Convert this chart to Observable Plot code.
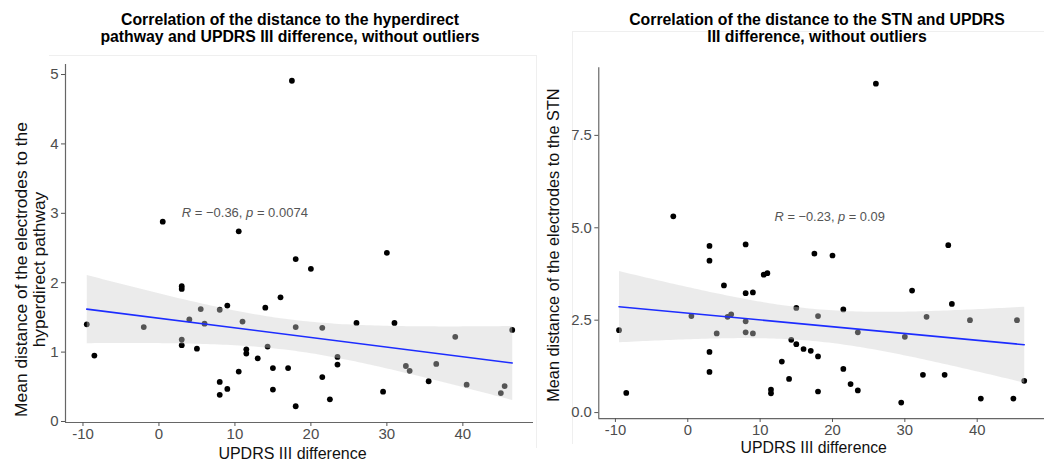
<!DOCTYPE html>
<html>
<head>
<meta charset="utf-8">
<script src="https://cdn.jsdelivr.net/npm/d3@7"></script>
<script src="https://cdn.jsdelivr.net/npm/@observablehq/plot@0.6"></script>
<style>
  html, body { margin: 0; padding: 0; background: #fff; }
  #wrap { position: relative; width: 1044px; height: 467px; overflow: hidden; font-family: "Liberation Sans", Arial, sans-serif; }
  .panel { position: absolute; top: 0; overflow: hidden; }
  .title { position: absolute; top: 12px; width: 540px; text-align: center; font-weight: bold; font-size: 15.8px; line-height: 16.5px; color: #000; }
  .fbox { position: absolute; border-color: #efefef; border-style: solid; border-width: 0; }
</style>
</head>
<body>
<div id="wrap">
  <div class="fbox" style="left:49px; top:55px; width:487px; height:392px; border-top-width:1px; border-right-width:1px;"></div>
  <div class="fbox" style="left:572px; top:31px; width:480px; height:412px; border-top-width:1px; border-left-width:1px;"></div>
  <div class="panel" id="left" style="left:0px; width:535px; height:467px;"></div>
  <div class="panel" id="right" style="left:537px; width:507px; height:467px;"></div>
  <div class="title" id="t1" style="left:20px;"></div>
  <div class="title" id="t2" style="left:547px;"></div>
</div>
<script>
// ---- data ----
const titles = [
  ["Correlation of the distance to the hyperdirect", "pathway and UPDRS III difference, without outliers"],
  ["Correlation of the distance to the STN and UPDRS", "III difference, without outliers"]
];
const xLabel = "UPDRS III difference";
const yLabelHD = "Mean distance of the electrodes to the\nhyperdirect pathway";
const yLabelSTN = "Mean distance of the electrodes to the STN";
const statHD = ["R", " = \u22120.36, ", "p", " = 0.0074"];
const statSTN = ["R", " = \u22120.23, ", "p", " = 0.09"];

const xTicks = [-10, 0, 10, 20, 30, 40];
const yTicksHD = [0, 1, 2, 3, 4, 5];
const yTicksSTN = [0, 2.5, 5, 7.5];

const hdX = [-9.5, -8.5, -2, 0.5, 3, 3, 3, 3, 4, 5, 5.5, 6, 8, 8, 8, 9, 9, 10.5, 10.5, 11, 11.5, 11.5, 13, 14, 14.3, 15, 15, 16, 17, 17.5, 18, 18, 18, 20, 21.5, 21.5, 22.5, 23.5, 23.5, 26, 29.5, 30, 31, 32.5, 33, 35.5, 36.5, 39, 40.5, 45, 45.5, 46.5];
const hdY = [1.40, 0.95, 1.36, 2.88, 1.95, 1.91, 1.18, 1.10, 1.47, 1.05, 1.62, 1.41, 1.61, 0.57, 0.385, 1.67, 0.47, 2.74, 0.72, 1.44, 1.04, 0.98, 0.91, 1.64, 1.08, 0.77, 0.46, 1.79, 0.77, 4.91, 2.34, 1.36, 0.22, 2.20, 0.64, 1.35, 0.32, 0.93, 0.82, 1.42, 0.43, 2.43, 1.42, 0.80, 0.73, 0.58, 0.83, 1.22, 0.53, 0.41, 0.51, 1.32];

const stnX = [-9.5, -8.5, -2, 0.5, 3, 3, 3, 3, 4, 5, 5.5, 6, 8, 8, 8, 8, 9, 9, 10.5, 11, 11.5, 11.5, 13, 14, 14.3, 15, 15, 16, 17, 17.5, 18, 18, 18, 20, 21.5, 21.5, 22.5, 23.5, 23.5, 26, 29.5, 30, 31, 32.5, 33, 35.5, 36, 36.5, 39, 40.5, 45, 45.5, 46.5];
const stnY = [2.23, 0.53, 5.31, 2.61, 4.51, 4.11, 1.64, 1.10, 2.14, 3.44, 2.59, 2.66, 4.55, 3.23, 2.47, 2.17, 3.25, 2.14, 3.73, 3.77, 0.62, 0.52, 1.38, 0.91, 1.97, 1.85, 2.83, 1.72, 1.67, 4.30, 1.52, 0.57, 2.61, 4.25, 1.18, 2.79, 0.77, 0.60, 2.17, 8.9, 0.27, 2.05, 3.30, 1.02, 2.59, 1.02, 4.53, 2.94, 2.50, 0.38, 0.38, 2.50, 0.86];

// ---- helpers ----
function expand(arr) {
  const [a, b] = d3.extent(arr);
  const e = (b - a) * 0.05;
  return [a - e, b + e];
}

function panel(o) {
  const data = o.xs.map((x, i) => ({x, y: o.ys[i]}));
  const xd = expand(o.xs), yd = expand(o.ys);
  const font = "Liberation Sans, Arial, sans-serif";
  const svg = Plot.plot({
    width: o.width, height: 467,
    marginLeft: o.ml, marginRight: o.mr, marginTop: o.mt, marginBottom: o.mb,
    style: {fontFamily: font, background: "transparent", overflow: "visible"},
    x: {domain: xd, axis: null},
    y: {domain: yd, axis: null},
    marks: [
      Plot.dot(data, {x: "x", y: "y", r: 2.9, fill: "#000", stroke: "none"}),
      Plot.linearRegressionY(data, {x: "x", y: "y", stroke: "#1c2cff", strokeWidth: 1.6, fill: "#cfcfcf", fillOpacity: 0.41}),
      Plot.ruleX([xd[0]], {stroke: "#666", strokeWidth: 1.2}),
      Plot.ruleY([yd[0]], {stroke: "#666", strokeWidth: 1.2}),
      Plot.axisX({ticks: xTicks, tickFormat: d => String(d), tickSize: 4, tickPadding: 2, fontSize: 15, stroke: "#555", fill: "#4d4d4d", label: null}),
      Plot.axisY({ticks: o.yTicks, tickFormat: o.yFmt, tickSize: 4, tickPadding: 3, fontSize: 15, stroke: "#555", fill: "#4d4d4d", label: null}),
      Plot.text([o.stat.join("")], {x: () => o.statX, y: () => o.statY, text: d => d, textAnchor: "start", fontSize: 13, fill: "#555"}),
      Plot.text([xLabel], {frameAnchor: "bottom", text: d => d, textAnchor: "middle", dx: o.xlDx, dy: o.xlDy, fontSize: 16, fill: "#111"}),
      Plot.text([o.yLabel], {frameAnchor: "left", text: d => d, rotate: -90, textAnchor: "middle", lineAnchor: "middle", dx: o.ylDx, dy: o.ylDy, fontSize: o.ylSize, lineHeight: o.ylLH, fill: "#111"})
    ]
  });
  // italicise R and p in the statistic label
  const target = o.stat.join("");
  svg.querySelectorAll("text").forEach(t => {
    if (t.textContent === target) {
      while (t.firstChild) t.removeChild(t.firstChild);
      o.stat.forEach((s, i) => {
        const ts = document.createElementNS("http://www.w3.org/2000/svg", "tspan");
        ts.textContent = s;
        if (i % 2 === 0) ts.setAttribute("font-style", "italic");
        t.appendChild(ts);
      });
    }
  });
  return svg;
}

document.getElementById("left").appendChild(panel({
  xs: hdX, ys: hdY, width: 535, ml: 65, mr: 2, mt: 64, mb: 45,
  yTicks: yTicksHD, yFmt: d => String(d), stat: statHD, statX: 3, statY: 3.0,
  yLabel: yLabelHD, xlDx: -7, xlDy: 36, ylDx: -35, ylDy: 26, ylSize: 17.4, ylLH: 1.03
}));
document.getElementById("right").appendChild(panel({
  xs: stnX, ys: stnY, width: 513, ml: 62, mr: 0, mt: 68, mb: 44,
  yTicks: yTicksSTN, yFmt: d => d.toFixed(1), stat: statSTN, statX: 12, statY: 5.29,
  yLabel: yLabelSTN, xlDx: -8, xlDy: 35, ylDx: -46, ylDy: 2, ylSize: 16.5, ylLH: 1.1
}));

document.getElementById("t1").innerHTML = titles[0].join("<br>");
document.getElementById("t2").innerHTML = titles[1].join("<br>");
</script>
</body>
</html>
